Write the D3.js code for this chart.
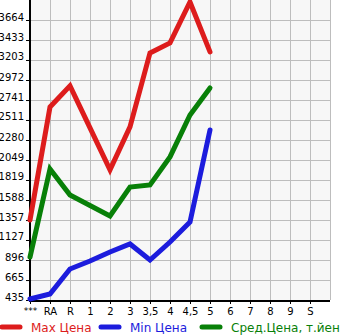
<!DOCTYPE html>
<html>
<head>
<meta charset="utf-8">
<script src="https://cdn.jsdelivr.net/npm/d3@7"></script>
<style>
  html, body { margin: 0; padding: 0; background: #fff; }
  svg { display: block; font-family: "DejaVu Sans", sans-serif; }
</style>
</head>
<body>
<div id="chart"></div>
<script>
// Categories and series
const categories = ["***", "RA", "R", "1", "2", "3", "3,5", "4", "4,5", "5", "6", "7", "8", "9", "S"];
const yTicks = [435, 665, 896, 1127, 1357, 1588, 1819, 2049, 2280, 2511, 2741, 2972, 3203, 3433, 3664];

const maxPrice = [1357, 2661, 2904, 2420, 1935, 2431, 3284, 3400, 3872, 3296];
const minPrice = [447, 504, 793, 885, 989, 1081, 896, 1104, 1335, 2396];
const avgPrice = [930, 1946, 1646, 1525, 1404, 1738, 1762, 2085, 2569, 2880];

const seriesNames = ["Max Цена", "Min Цена", "Сред.Цена, т.йен"];

const COLORS = {
  max: "#dd1c1c",
  min: "#1c1cdd",
  avg: "#088008",
};

const width = 345, height = 335;
const plotLeft = 30, plotRight = 330, plotTop = 0, plotBottom = 300;

const svg = d3.select("#chart")
  .append("svg")
  .attr("width", width)
  .attr("height", height);

const step = (yTicks[yTicks.length - 1] - yTicks[0]) / (yTicks.length - 1);
const y = d3.scaleLinear()
  .domain([yTicks[0], yTicks[0] + step * yTicks.length])
  .range([plotBottom, plotTop]);

const x = d3.scalePoint()
  .domain(categories)
  .range([plotLeft, plotRight - (plotRight - plotLeft) / categories.length]);
const xStep = x.step();

// plot background
svg.append("rect")
  .attr("x", plotLeft).attr("y", plotTop)
  .attr("width", plotRight - plotLeft).attr("height", plotBottom - plotTop)
  .attr("fill", "#f7f7f7");

// grid
const grid = svg.append("g").attr("stroke", "#bdbdbd").attr("stroke-width", 1);
grid.selectAll("line.h")
  .data(yTicks)
  .join("line")
  .attr("class", "h")
  .attr("x1", plotLeft).attr("x2", plotRight)
  .attr("y1", d => Math.round(y(d)) + 0.5)
  .attr("y2", d => Math.round(y(d)) + 0.5);
grid.selectAll("line.v")
  .data(categories.slice(1).map(c => x(c)).concat([x(categories[categories.length - 1]) + xStep]))
  .join("line")
  .attr("class", "v")
  .attr("x1", d => d + 0.5).attr("x2", d => d + 0.5)
  .attr("y1", plotTop).attr("y2", plotBottom);

// axes
const yAxis = svg.append("g")
  .attr("transform", `translate(${plotLeft},0)`)
  .call(d3.axisLeft(y).tickValues(yTicks).tickSize(4).tickPadding(2).tickFormat(d3.format("d")));
yAxis.select(".domain").remove();
yAxis.selectAll("text")
  .attr("font-size", "10px")
  .attr("fill", "#000")
  .attr("font-family", "DejaVu Sans, sans-serif")
  .attr("dy", "0");

const xAxis = svg.append("g")
  .attr("transform", `translate(0,${plotBottom})`)
  .call(d3.axisBottom(x).tickSize(4).tickPadding(4));
xAxis.select(".domain").remove();
xAxis.selectAll("text")
  .attr("font-size", d => d === "***" ? "9px" : "10px")
  .attr("fill", "#000")
  .attr("font-family", "DejaVu Sans, sans-serif");

svg.append("line")
  .attr("x1", plotLeft).attr("x2", plotLeft)
  .attr("y1", plotTop).attr("y2", plotBottom + 2)
  .attr("stroke", "#000").attr("stroke-width", 2);
svg.append("line")
  .attr("x1", plotLeft - 1).attr("x2", plotRight)
  .attr("y1", plotBottom + 1).attr("y2", plotBottom + 1)
  .attr("stroke", "#000").attr("stroke-width", 2);

// lines
const line = d3.line()
  .x((d, i) => x(categories[i]))
  .y(d => y(d));

[[avgPrice, COLORS.avg], [minPrice, COLORS.min], [maxPrice, COLORS.max]].forEach(([data, color]) => {
  svg.append("path")
    .datum(data)
    .attr("fill", "none")
    .attr("stroke", color)
    .attr("stroke-width", 5)
    .attr("stroke-linejoin", "miter")
    .attr("stroke-linecap", "round")
    .attr("d", line);
});

// legend
const legendItems = [
  { name: seriesNames[0], color: COLORS.max, x: 0 },
  { name: seriesNames[1], color: COLORS.min, x: 99 },
  { name: seriesNames[2], color: COLORS.avg, x: 200 },
];
const legend = svg.append("g");
legendItems.forEach(it => {
  legend.append("line")
    .attr("x1", it.x + 2).attr("x2", it.x + 20)
    .attr("y1", 327).attr("y2", 327)
    .attr("stroke", it.color)
    .attr("stroke-width", 5)
    .attr("stroke-linecap", "round");
  legend.append("text")
    .attr("x", it.x + 31)
    .attr("y", 332)
    .attr("font-size", "12px")
    .attr("fill", it.color)
    .text(it.name);
});
</script>
</body>
</html>
